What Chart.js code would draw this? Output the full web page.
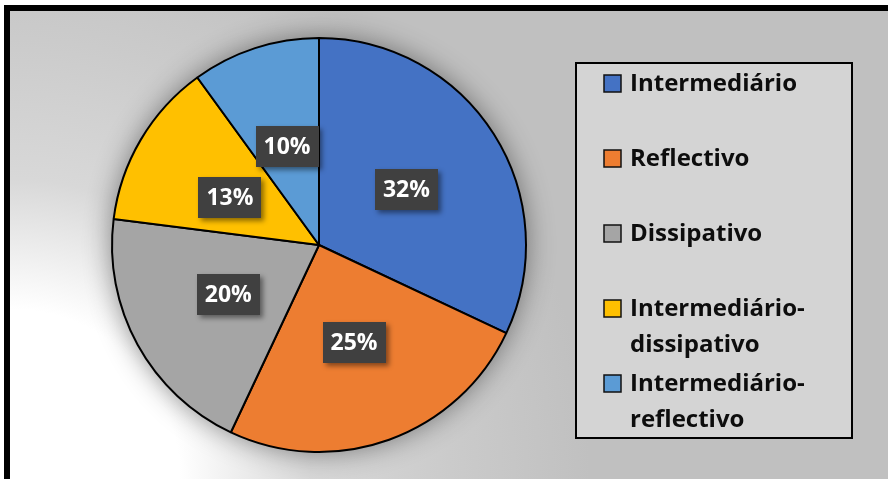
<!DOCTYPE html>
<html>
<head>
<meta charset="utf-8">
<script src="https://cdn.jsdelivr.net/npm/chart.js@4/dist/chart.umd.min.js"></script>
<style>
  html, body { margin: 0; padding: 0; background: #fff; }
  #frame {
    position: absolute;
    left: 4px;
    top: 5px;
    width: 878px;
    height: 468px;
    border-left: 6px solid #000;
    border-top: 6px solid #000;
    background: radial-gradient(circle at 0 100%, #fff 0px, #fff 170px, #d8d8d8 300px, #cbcbcb 440px, #c0c0c0 580px);
  }
  canvas { display: block; }
</style>
</head>
<body>
<div id="frame">
  <canvas id="pieChart" width="878" height="468"></canvas>
</div>
<script>
const categories = [
  "Intermediário",
  "Reflectivo",
  "Dissipativo",
  "Intermediário-dissipativo",
  "Intermediário-reflectivo"
];
// legend text broken over lines the way the box shows it
const legendLines = [
  ["Intermediário"],
  ["Reflectivo"],
  ["Dissipativo"],
  ["Intermediário-", "dissipativo"],
  ["Intermediário-", "reflectivo"]
];
const shares = [32, 25, 20, 13, 10];
const sliceColors = ["#4472C4", "#ED7D31", "#A5A5A5", "#FFC000", "#5B9BD5"];

const FONT = '"Open Sans", "Noto Sans", sans-serif';

// soft shadow under the whole pie
const pieShadow = {
  id: "pieShadow",
  beforeDatasetsDraw(chart) {
    const arc = chart.getDatasetMeta(0).data[0];
    if (!arc) return;
    const ctx = chart.ctx;
    ctx.save();
    ctx.shadowColor = "rgba(0,0,0,0.45)";
    ctx.shadowBlur = 28;
    ctx.fillStyle = "#999";
    ctx.beginPath();
    ctx.arc(arc.x, arc.y, arc.outerRadius, 0, Math.PI * 2);
    ctx.fill();
    ctx.restore();
  }
};

// dark boxes with the percentage of each slice
const valueBoxes = {
  id: "valueBoxes",
  afterDatasetsDraw(chart, args, opts) {
    const ctx = chart.ctx;
    const data = chart.data.datasets[0].data;
    const nudge = opts.nudge || {};
    chart.getDatasetMeta(0).data.forEach((arc, i) => {
      const mid = (arc.startAngle + arc.endAngle) / 2;
      const r = arc.outerRadius * 0.5;
      const shift = nudge[i] || [0, 0];
      const x = arc.x + Math.cos(mid) * r + shift[0];
      const y = arc.y + Math.sin(mid) * r + shift[1];
      const w = 63, h = 41;
      ctx.save();
      ctx.shadowColor = "rgba(0,0,0,0.45)";
      ctx.shadowBlur = 5;
      ctx.shadowOffsetX = 3;
      ctx.shadowOffsetY = 3;
      ctx.fillStyle = "#404040";
      ctx.fillRect(Math.round(x - w / 2), Math.round(y - h / 2), w, h);
      ctx.restore();
      ctx.save();
      ctx.fillStyle = "#fff";
      ctx.font = "bold 23px " + FONT;
      ctx.textAlign = "center";
      ctx.textBaseline = "middle";
      ctx.fillText(data[i] + "%", x, y + 1);
      ctx.restore();
    });
  }
};

// boxed legend on the right
const sideLegend = {
  id: "sideLegend",
  afterDraw(chart) {
    const ctx = chart.ctx;
    const left = 566, top = 52, width = 276, height = 375;
    ctx.save();
    ctx.fillStyle = "#d4d4d4";
    ctx.fillRect(left, top, width, height);
    ctx.lineWidth = 2;
    ctx.strokeStyle = "#000";
    ctx.strokeRect(left, top, width, height);

    const colors = chart.data.datasets[0].backgroundColor;
    ctx.font = "bold 24px " + FONT;
    ctx.textBaseline = "middle";
    ctx.textAlign = "left";
    legendLines.forEach((lines, i) => {
      const y = top + 20.5 + i * 75;
      ctx.fillStyle = colors[i];
      ctx.fillRect(left + 28, y - 8.5, 17, 17);
      ctx.lineWidth = 1.5;
      ctx.strokeStyle = "#111";
      ctx.strokeRect(left + 28, y - 8.5, 17, 17);
      ctx.fillStyle = "#0d0d0d";
      lines.forEach((line, j) => {
        ctx.fillText(line, left + 54, y + 1 + j * 36);
      });
    });
    ctx.restore();
  }
};

new Chart(
  document.getElementById("pieChart").getContext("2d"),
  {
    type: "pie",
    data: {
      labels: categories,
      datasets: [
        {
          data: shares,
          backgroundColor: sliceColors,
          borderColor: "#000",
          borderWidth: 2
        }
      ]
    },
    options: {
      responsive: false,
      animation: false,
      layout: {
        padding: { left: 101, right: 361, top: 26, bottom: 26 }
      },
      plugins: {
        legend: { display: false },
        tooltip: { enabled: false },
        valueBoxes: { nudge: { 3: [0, 5] } }
      }
    },
    plugins: [pieShadow, valueBoxes, sideLegend]
  }
);
</script>
</body>
</html>
